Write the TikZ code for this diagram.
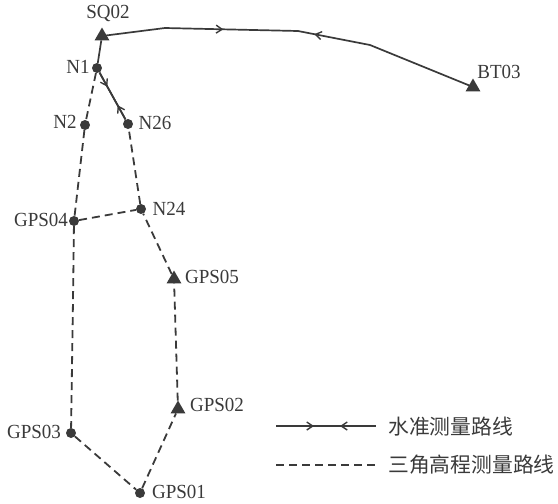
\documentclass[tikz,border=0pt]{standalone}
\usepackage{fontspec}
\setmainfont{Liberation Serif}
\newfontfamily\narrowlatin{Liberation Serif}[FakeStretch=0.95]
\newfontfamily\cjk{Noto Sans CJK SC}[Scale=1]
\usetikzlibrary{arrows.meta,decorations.markings,shapes.geometric}
\definecolor{ink}{HTML}{3A3A3A}
\tikzset{
  x=1pt,y=-1pt,
  dotpt/.style={circle,fill=ink,draw=none,inner sep=0pt,minimum size=10pt},
  tripoint/.style={regular polygon,regular polygon sides=3,fill=ink,draw=none,inner sep=0pt,minimum size=17pt},
  lab/.style={text=ink,inner sep=0pt,font=\fontsize{20}{21}\narrowlatin\selectfont},
  legendtext/.style={text=ink,inner sep=0pt,anchor=west,font=\fontsize{20.8}{21}\cjk\selectfont},
  solidline/.style={draw=ink,line width=1.7pt},
  dashline/.style={draw=ink,line width=1.8pt,dash pattern=on 8pt off 5pt},
  fwd/.style={postaction={decorate},decoration={markings,mark=at position #1 with {\arrow[ink,line width=1.4pt]{Straight Barb[length=6pt,width=8pt]}}}},
  bwd/.style={postaction={decorate},decoration={markings,mark=at position #1 with {\arrowreversed[ink,line width=1.4pt]{Straight Barb[length=6pt,width=8pt]}}}},
}
\begin{document}
\begin{tikzpicture}
\useasboundingbox (0,0) rectangle (558,504);
% stations
\node[dotpt] (N1) at (97,68) {};
\node[dotpt] (N2) at (85,125) {};
\node[dotpt] (N26) at (128,124) {};
\node[dotpt] (GPS04) at (74,221) {};
\node[dotpt] (N24) at (141,209) {};
\node[dotpt] (GPS03) at (71,433) {};
\node[dotpt] (GPS01) at (140,493) {};
\node[tripoint] (SQ02) at (102,36) {};
\node[tripoint] (GPS05) at (174,279) {};
\node[tripoint] (GPS02) at (178,409) {};
\node[tripoint] (BT03) at (473,87) {};
\coordinate (r1) at (165,28);
\coordinate (r2) at (298,31);
\coordinate (r3) at (370,45);
\coordinate (d1) at (73,300);
% level route
\draw[solidline,fwd=0.62] (SQ02.center) -- (r1) -- (r2);
\draw[solidline,bwd=0.09] (r2) -- (r3) -- (BT03.center);
\draw[solidline,fwd=0.3] (N1) -- (N26);
\draw[solidline,bwd=0.7] (N1) -- (N26);
\draw[solidline] (N1) -- (SQ02);
% trig route
\draw[dashline] (N1) -- (N2) -- (GPS04) -- (d1) -- (GPS03) -- (GPS01) -- (GPS02) -- (GPS05) -- (N24) -- (N26);
\draw[dashline] (GPS04) -- (N24);
% labels
\node[lab] (lSQ) at (108,13) {SQ02};
\node[lab] (lN1) at (78,67) {N1};
\node[lab] (lN2) at (65,122) {N2};
\node[lab] (lN26) at (155,123) {N26};
\node[lab] (lG4) at (41,220) {GPS04};
\node[lab] (lN24) at (169,209) {N24};
\node[lab] (lG5) at (212,277) {GPS05};
\node[lab] (lG2) at (217,405) {GPS02};
\node[lab] (lG3) at (34,432) {GPS03};
\node[lab] (lG1) at (179,492) {GPS01};
\node[lab] (lBT) at (499,72) {BT03};
% legend
\coordinate (a1) at (276,426);
\coordinate (a2) at (376,426);
\coordinate (b1) at (276,465);
\coordinate (b2) at (376,465);
\draw[solidline,fwd=0.38] (a1) -- (a2);
\draw[solidline,bwd=0.64] (a1) -- (a2);
\draw[dashline] (b1) -- (b2);
\node[legendtext] (t1) at (388,427) {水准测量路线};
\node[legendtext] (t2) at (388,465) {三角高程测量路线};
\end{tikzpicture}
\end{document}
